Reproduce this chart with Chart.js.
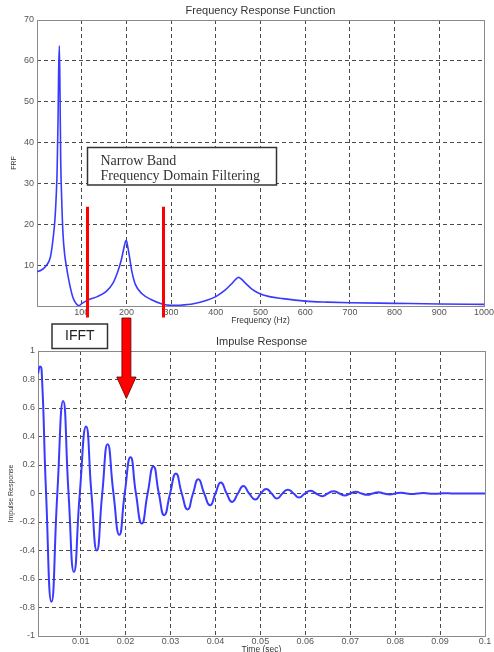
<!DOCTYPE html>
<html><head><meta charset="utf-8">
<script src="https://cdn.jsdelivr.net/npm/chart.js@4/dist/chart.umd.min.js"></script>
<style>
html,body{margin:0;padding:0;background:#fff;}
#wrap{position:relative;width:494px;height:652px;overflow:hidden;background:#fff;}
canvas{position:absolute;left:0;top:0;}
</style></head>
<body>
<div id="wrap">
<canvas id="impulse" width="494" height="652"></canvas>
<canvas id="frf" width="494" height="652"></canvas>
</div>
<script>
// ---- data ----
const freqHz = [0,10,20,30,36, 40,43,45,47,48.5, 50,51.5,53,55,58, 62,66,70,75,80, 85,90,94,100,115, 135,155,170,180,188, 194,198,200,203,207, 212,220,235,255,280, 300,320,350,380,400, 420,435,445,451,458, 468,480,495,520,550, 600,650,700,800,900, 1000];
const frfValue = [8.4,8.8,9.8,12,16.5, 21,27,33,45,58, 63.7,52,36,27,18, 12.5,9.6,7,4.3,2.2, 1,0.3,0.1,0.6,1.5, 2.3,3.6,5.6,8.2,11, 14,15.8,16,14.5,12, 8.6,5.3,3.0,1.6,0.5, 0.15,0.2,0.55,1.4,2.3, 3.8,5.4,6.6,7.0,6.5, 5.4,4.2,3.2,2.3,1.8, 1.2,0.95,0.8,0.65,0.5, 0.4];
const cutoffHz = [113, 283];
const cutoffSpan = [24.3, -2.8];
const freqTicks = [0,100,200,300,400,500,600,700,800,900,1000];
const frfTicks = [0,10,20,30,40,50,60,70];

const timeSec = [0.0005,0.0009,0.0013,0.0023,0.0035,0.0048,0.0061,0.0073,0.0085,0.0098,
  0.0112,0.0124,0.0136,0.0148,0.016,0.0173,0.0186,0.0198,0.0211,0.0223,
  0.0236,0.0249,0.0262,0.0274,0.0286,0.0299,0.0312,0.0325,0.0338,0.035,
  0.0362,0.0375,0.0388,0.04,0.0412,0.0425,0.0437,0.045,0.0462,0.0475,
  0.0489,0.0501,0.0513,0.0525,0.0537,0.0549,0.0561,0.0574,0.0586,0.0599,
  0.0611,0.0624,0.0638,0.065,0.0663,0.0676,0.0688,0.07,0.0713,0.0725,
  0.0738,0.075,0.0763,0.0775,0.0788,0.08,0.0813,0.0825,0.0838,0.085,
  0.0863,0.0875,0.0888,0.09,0.0913,0.0925,0.095,0.1];
const impulseValue = [0.84,0.89,0.87,0,-0.76,0,0.65,0,-0.55,0,
  0.47,0,-0.40,0,0.345,0,-0.29,0,0.255,0,
  -0.21,0,0.19,0,-0.152,0,0.14,0,-0.112,0,
  0.1,0,-0.082,0,0.078,0,-0.059,0,0.053,0,
  -0.042,0,0.032,0,-0.035,0,0.027,0,-0.028,0,
  0.02,0,-0.019,0,0.016,0,-0.014,0,0.012,0,
  -0.009,0,0.009,0,-0.007,0,0.005,0,-0.003,0,
  0.003,0,-0.002,0,0.002,0,0,0];
const timeTicks = [0.01,0.02,0.03,0.04,0.05,0.06,0.07,0.08,0.09,0.1];
const impulseTicks = [-1,-0.8,-0.6,-0.4,-0.2,0,0.2,0.4,0.6,0.8,1];

// ---- styling ----
const SANS = 'Arial, "Liberation Sans", sans-serif';
const SERIF = '"Times New Roman", "Liberation Serif", serif';
Chart.defaults.font.family = SANS;
const curveColor = '#3a3aff';
const tickColor = '#555';
function gridColor(c){
  const s = c.scale; const v = c.tick ? c.tick.value : null;
  return (v === s.min || v === s.max) ? 'rgba(0,0,0,0)' : '#4a4a4a';
}
function fixedSize(prop, size){
  return function(s){ s[prop] = size; s.paddingLeft = 0; s.paddingRight = 0; s.paddingTop = 0; s.paddingBottom = 0; };
}
function axisOpts(ticksArr, min, max, isX, fmt, size, pad){
  return {
    type: 'linear', min: min, max: max,
    afterBuildTicks: s => { s.ticks = ticksArr.map(v => ({value: v})); },
    afterFit: fixedSize(isX ? 'height' : 'width', size),
    grid: { color: gridColor, lineWidth: 1, drawTicks: false },
    border: { display: false, dash: [4,3] },
    ticks: { color: tickColor, font: { size: 9 }, padding: pad, autoSkip: false, maxRotation: 0, callback: fmt }
  };
}
function frame(chart){
  const {ctx, chartArea: a} = chart;
  ctx.save();
  ctx.strokeStyle = '#8a8a8a'; ctx.lineWidth = 1;
  ctx.strokeRect(Math.round(a.left)+0.5, Math.round(a.top)+0.5, Math.round(a.right-a.left), Math.round(a.bottom-a.top));
  ctx.restore();
}
function text(ctx, str, x, y, font, color, align, rot){
  ctx.save();
  ctx.font = font; ctx.fillStyle = color; ctx.textAlign = align || 'center'; ctx.textBaseline = 'middle';
  ctx.translate(x, y); if (rot) ctx.rotate(rot);
  ctx.fillText(str, 0, 0);
  ctx.restore();
}

// ---- bottom chart: impulse response ----
new Chart(document.getElementById('impulse'), {
  type: 'line',
  data: { datasets: [{
    data: timeSec.map((t,i) => ({x: t, y: impulseValue[i]})),
    borderColor: curveColor, borderWidth: 2, pointRadius: 0, fill: false,
    tension: 0.55
  }]},
  options: {
    responsive: false, animation: false, events: [],
    layout: { padding: { left: 0, top: 351, right: 9, bottom: 0 } },
    plugins: { legend: { display: false }, tooltip: { enabled: false } },
    scales: {
      x: axisOpts(timeTicks, 0.0005, 0.1, true, v => String(Math.round(v*100)/100), 16, 0),
      y: axisOpts(impulseTicks, -1, 1, false, v => String(Math.round(v*10)/10), 38, 3)
    }
  },
  plugins: [{
    id: 'decor2',
    beforeDatasetsDraw(chart){ frame(chart); },
    afterDraw(chart){
      const ctx = chart.ctx, a = chart.chartArea, cx = (a.left + a.right)/2;
      text(ctx, 'Impulse Response', cx, 342, '11px ' + SANS, '#333');
      text(ctx, 'Time (sec)', cx, 649.5, '8.5px ' + SANS, '#333');
      text(ctx, 'Impulse Response', 11, (a.top + a.bottom)/2, '7px ' + SANS, '#333', 'center', -Math.PI/2);
    }
  }]
});

// ---- top chart: frequency response function ----
new Chart(document.getElementById('frf'), {
  type: 'line',
  data: { datasets: [
    { data: [{x: cutoffHz[0], y: cutoffSpan[0]}, {x: cutoffHz[0], y: cutoffSpan[1]}],
      borderColor: '#ff0000', borderWidth: 3, pointRadius: 0, clip: false, tension: 0 },
    { data: [{x: cutoffHz[1], y: cutoffSpan[0]}, {x: cutoffHz[1], y: cutoffSpan[1]}],
      borderColor: '#ff0000', borderWidth: 3, pointRadius: 0, clip: false, tension: 0 },
    { data: freqHz.map((f,i) => ({x: f, y: frfValue[i]})),
      borderColor: curveColor, borderWidth: 1.6, pointRadius: 0, fill: false,
      cubicInterpolationMode: 'monotone' }
  ]},
  options: {
    responsive: false, animation: false, events: [],
    layout: { padding: { left: 0, top: 20, right: 10, bottom: 332 } },
    plugins: { legend: { display: false }, tooltip: { enabled: false } },
    scales: {
      x: axisOpts(freqTicks, 0, 1000, true, v => v === 0 ? '' : String(v), 14, 1),
      y: axisOpts(frfTicks, 0, 70, false, v => v === 0 ? '' : String(v), 37, 3)
    }
  },
  plugins: [{
    id: 'decor1',
    beforeDatasetsDraw(chart){ frame(chart); },
    afterDraw(chart){
      const ctx = chart.ctx, a = chart.chartArea, cx = (a.left + a.right)/2;
      text(ctx, 'Frequency Response Function', cx, 11, '11px ' + SANS, '#333');
      text(ctx, 'Frequency (Hz)', cx, 321, '8.5px ' + SANS, '#333');
      text(ctx, 'FRF', 14, (a.top + a.bottom)/2, '7px ' + SANS, '#333', 'center', -Math.PI/2);
      // Narrow band annotation box
      ctx.save();
      ctx.fillStyle = '#fff'; ctx.strokeStyle = '#333'; ctx.lineWidth = 1.5;
      ctx.fillRect(87.5, 147.5, 189, 37.5); ctx.strokeRect(87.5, 147.5, 189, 37.5);
      ctx.restore();
      ctx.save();
      ctx.font = '14px ' + SERIF; ctx.fillStyle = '#333'; ctx.textBaseline = 'alphabetic'; ctx.textAlign = 'left';
      ctx.fillText('Narrow Band', 100.5, 165);
      ctx.fillText('Frequency Domain Filtering', 100.5, 179.5);
      ctx.restore();
      // IFFT box
      ctx.save();
      ctx.fillStyle = '#fff'; ctx.strokeStyle = '#333'; ctx.lineWidth = 1.5;
      ctx.fillRect(52, 324, 55.5, 24.5); ctx.strokeRect(52, 324, 55.5, 24.5);
      ctx.restore();
      text(ctx, 'IFFT', 79.8, 336.5, '14px ' + SANS, '#222');
      // arrow at the 200 Hz peak
      const ax = chart.scales.x.getPixelForValue(200);
      ctx.save();
      ctx.beginPath();
      ctx.moveTo(ax-4.5, 318); ctx.lineTo(ax+4.5, 318); ctx.lineTo(ax+4.5, 377);
      ctx.lineTo(ax+9.7, 377); ctx.lineTo(ax, 398.5); ctx.lineTo(ax-9.7, 377);
      ctx.lineTo(ax-4.5, 377); ctx.closePath();
      ctx.fillStyle = '#ff0000'; ctx.fill();
      ctx.strokeStyle = '#600000'; ctx.lineWidth = 0.8; ctx.stroke();
      ctx.restore();
    }
  }]
});
</script>
</body></html>
